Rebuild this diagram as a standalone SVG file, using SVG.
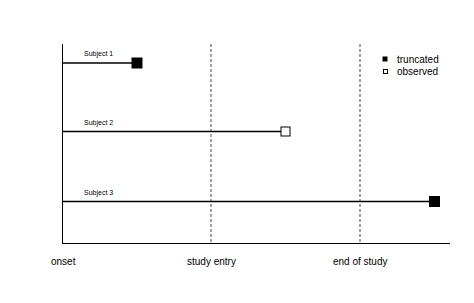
<svg xmlns="http://www.w3.org/2000/svg" width="474" height="303" viewBox="0 0 474 303">
<style>
text{font-family:"Liberation Sans",Arial,sans-serif;fill:#000}
.lab{font-size:7px}
.ax{font-size:10px}
.axis{stroke:#000;stroke-width:1;fill:none}
.dash{stroke:#444;stroke-width:1;stroke-dasharray:3,2;fill:none}
.subj{stroke:#000;stroke-width:1.5;fill:none}
.tr{fill:#000;stroke:#000;stroke-width:1}
.ob{fill:#fff;stroke:#000;stroke-width:1}
</style>
<rect width="474" height="303" fill="#fff"/>
<g id="axes">
<line class="axis" x1="62.5" y1="44" x2="62.5" y2="243.5"/>
<line class="axis" x1="62" y1="243.5" x2="450" y2="243.5"/>
<line class="dash" x1="211" y1="44" x2="211" y2="243"/>
<line class="dash" x1="360" y1="44" x2="360" y2="243"/>
<text class="ax" x="51" y="265">onset</text>
<text class="ax" x="187" y="265">study entry</text>
<text class="ax" x="333" y="265">end of study</text>
</g>
<g id="connectors">
<line class="subj" x1="62.5" y1="63" x2="132" y2="63"/>
<line class="subj" x1="62.5" y1="131.5" x2="281" y2="131.5"/>
<line class="subj" x1="62.5" y1="201.5" x2="429" y2="201.5"/>
</g>
<g id="subject1">
<text class="lab" x="84" y="56">Subject 1</text>
<rect class="tr" x="132" y="58" width="10" height="10"/>
</g>
<g id="subject2">
<text class="lab" x="84" y="125">Subject 2</text>
<rect class="ob" x="281" y="127" width="9" height="9"/>
</g>
<g id="subject3">
<text class="lab" x="84" y="195">Subject 3</text>
<rect class="tr" x="429.5" y="196.5" width="10" height="10"/>
</g>
<g id="legend">
<rect class="tr" x="383" y="57" width="4" height="4"/>
<text class="ax" x="397" y="63">truncated</text>
<rect class="ob" x="383.5" y="69.5" width="4" height="4"/>
<text class="ax" x="397" y="75">observed</text>
</g>
</svg>
